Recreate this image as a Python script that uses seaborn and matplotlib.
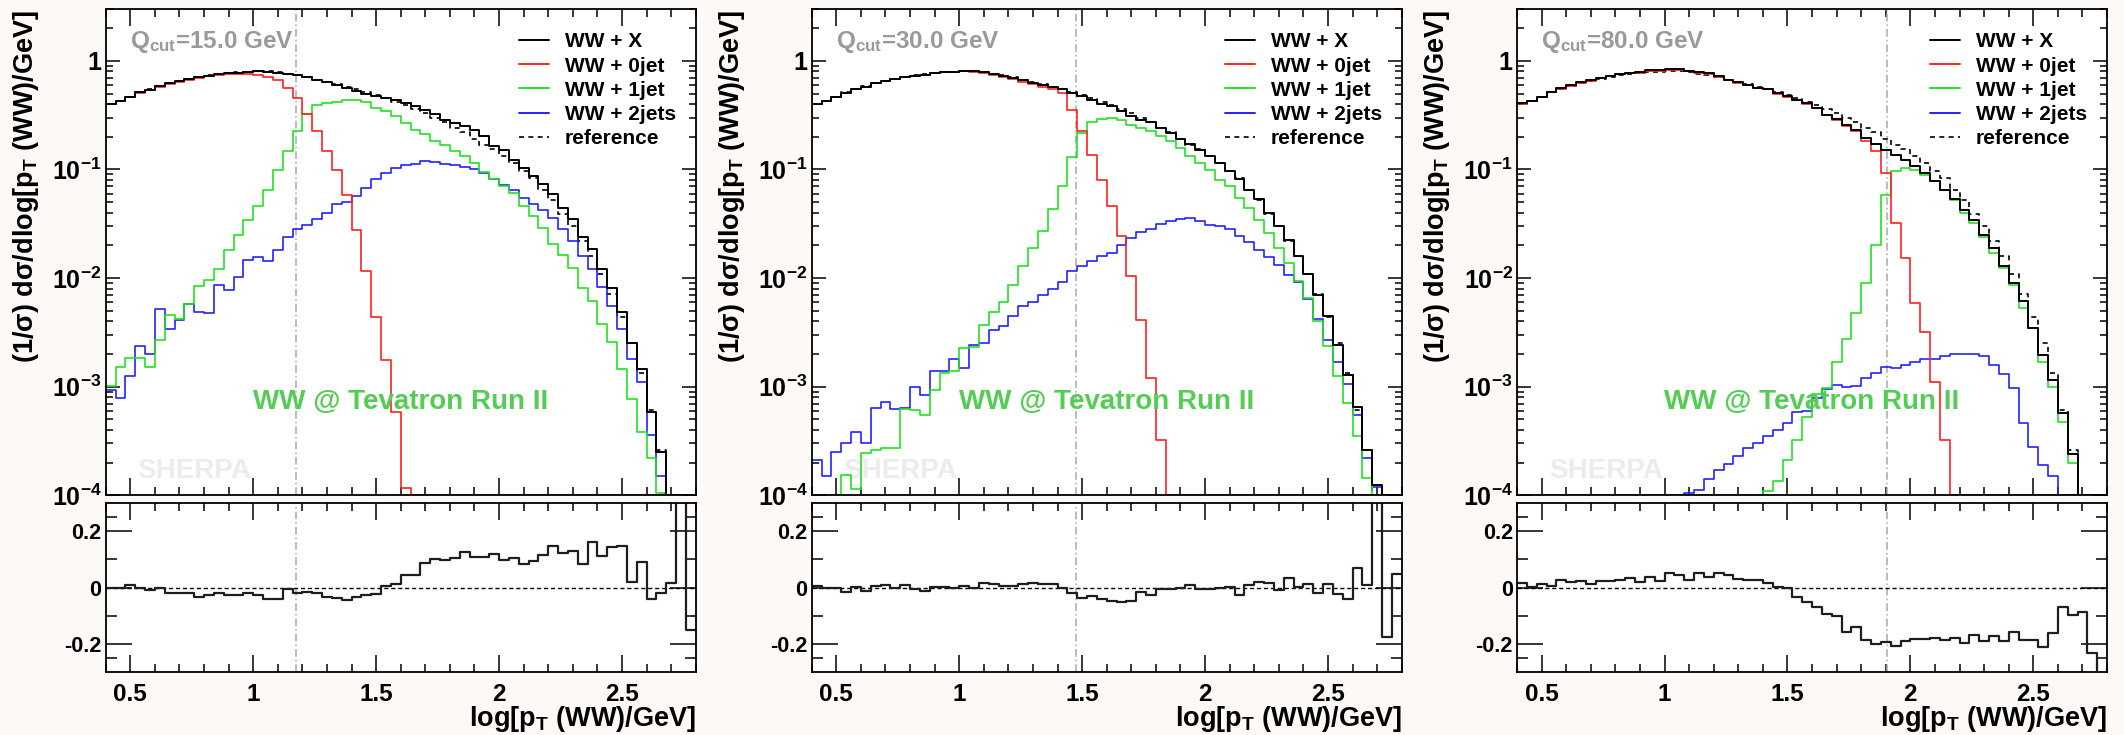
import numpy as np
import pandas as pd
import matplotlib
matplotlib.use("Agg")
import matplotlib.pyplot as plt
from matplotlib.ticker import (FixedLocator, FixedFormatter, NullFormatter,
                               LogLocator, MultipleLocator)
from matplotlib.lines import Line2D
import seaborn as sns

# ------------------------------------------------------------------ data
# histogram binning in log10[pT(WW)/GeV]
bin_edges = np.round(np.linspace(0.4, 2.8, 61), 2)
qcut_values = [15.0, 30.0, 80.0]
series_labels = ["WW + X", "WW + 0jet", "WW + 1jet", "WW + 2jets", "reference"]
main_ytick_vals = [1e-4, 1e-3, 1e-2, 1e-1, 1.0]
main_ytick_labels = [r"$10^{-4}$", r"$10^{-3}$", r"$10^{-2}$", r"$10^{-1}$", "1"]
xtick_vals = [0.5, 1.0, 1.5, 2.0, 2.5]
xtick_labels = ["0.5", "1", "1.5", "2", "2.5"]
ratio_ytick_vals = [-0.2, 0.0, 0.2]
ratio_ytick_labels = ["-0.2", "0", "0.2"]

reference = [0.40, 0.43, 0.46, 0.515, 0.545, 0.585, 0.62, 0.65, 0.68, 0.71,
             0.735, 0.755, 0.77, 0.785, 0.795, 0.80, 0.80, 0.785, 0.76, 0.735,
             0.705, 0.67, 0.64, 0.61, 0.575, 0.55, 0.515, 0.485, 0.455, 0.42,
             0.395, 0.36, 0.33, 0.295, 0.275, 0.242, 0.219, 0.192, 0.168, 0.153,
             0.133, 0.115, 0.096, 0.083, 0.065, 0.052, 0.039, 0.030, 0.0219, 0.0159,
             0.0109, 0.0071, 0.0044, 0.0025, 0.00134, 0.00061, 0.00026, 0.00008, 0.00006, 0.00003]

# ---- Qcut = 15 GeV
ww_x_q15 = [0.40, 0.43, 0.46, 0.52, 0.54, 0.59, 0.62, 0.65, 0.68, 0.71,
            0.73, 0.75, 0.77, 0.78, 0.79, 0.80, 0.79, 0.78, 0.76, 0.74,
            0.71, 0.67, 0.635, 0.60, 0.56, 0.53, 0.50, 0.475, 0.456, 0.434,
            0.405, 0.382, 0.349, 0.321, 0.288, 0.265, 0.25, 0.23, 0.202, 0.164,
            0.150, 0.123, 0.103, 0.087, 0.073, 0.059, 0.044, 0.035, 0.024, 0.0185,
            0.012, 0.0081, 0.0049, 0.00253, 0.00147, 0.00058, 0.00025, 0.0, 0.0, 0.0]
ww_0j_q15 = [0.40, 0.43, 0.46, 0.51, 0.54, 0.58, 0.61, 0.64, 0.67, 0.70,
             0.72, 0.74, 0.75, 0.76, 0.76, 0.748, 0.712, 0.673, 0.564, 0.45,
             0.327, 0.228, 0.147, 0.0998, 0.0587, 0.0279, 0.0116, 0.00435, 0.00175, 0.00059,
             0.000117, 0.0, 0.0, 0.0, 0.0, 0.0, 0.0, 0.0, 0.0, 0.0,
             0.0, 0.0, 0.0, 0.0, 0.0, 0.0, 0.0, 0.0, 0.0, 0.0,
             0.0, 0.0, 0.0, 0.0, 0.0, 0.0, 0.0, 0.0, 0.0, 0.0]
ww_1j_q15 = [0.00101, 0.00151, 0.00184, 0.00184, 0.00152, 0.00267, 0.0046, 0.0042, 0.0058, 0.0084,
             0.0095, 0.012, 0.018, 0.025, 0.034, 0.0458, 0.064, 0.098, 0.147, 0.228,
             0.325, 0.388, 0.405, 0.422, 0.434, 0.434, 0.419, 0.369, 0.344, 0.309,
             0.268, 0.233, 0.21, 0.182, 0.167, 0.147, 0.132, 0.115, 0.095, 0.081,
             0.070, 0.061, 0.046, 0.037, 0.029, 0.0208, 0.0164, 0.0124, 0.0081, 0.0062,
             0.0038, 0.00256, 0.00146, 0.00077, 0.00038, 0.00022, 0.000105, 0.0, 0.0, 0.0]
ww_2j_q15 = [0.00094, 0.00079, 0.00125, 0.00236, 0.00201, 0.0052, 0.0034, 0.0041, 0.0058, 0.0049,
             0.0048, 0.0087, 0.0078, 0.0102, 0.0148, 0.0157, 0.0143, 0.0183, 0.0239, 0.0284,
             0.0308, 0.0353, 0.0398, 0.0485, 0.0499, 0.0567, 0.0676, 0.0818, 0.093, 0.103,
             0.111, 0.113, 0.119, 0.117, 0.113, 0.109, 0.105, 0.100, 0.093, 0.081,
             0.0726, 0.064, 0.055, 0.048, 0.042, 0.036, 0.028, 0.022, 0.016, 0.012,
             0.0083, 0.0055, 0.0034, 0.0018, 0.0011, 0.00036, 0.00015, 0.0, 0.0, 0.0]
ratio_q15 = [0.0, 0.0, 0.01, 0.0, -0.01, 0.0, -0.02, -0.02, -0.02, -0.035,
             -0.025, -0.02, -0.027, -0.025, -0.02, -0.025, -0.04, -0.04, -0.007, -0.02,
             -0.017, -0.019, -0.033, -0.039, -0.046, -0.033, -0.027, -0.022, 0.005, 0.014,
             0.044, 0.044, 0.086, 0.10, 0.097, 0.103, 0.125, 0.107, 0.109, 0.12,
             0.097, 0.103, 0.082, 0.095, 0.117, 0.148, 0.123, 0.13, 0.083, 0.161,
             0.112, 0.144, 0.148, 0.019, 0.089, -0.041, -0.021, 0.017, 0.5, -0.151]

# ---- Qcut = 30 GeV
ww_x_q30 = [0.40, 0.43, 0.46, 0.51, 0.545, 0.58, 0.62, 0.655, 0.68, 0.715,
            0.73, 0.745, 0.77, 0.785, 0.795, 0.805, 0.80, 0.786, 0.753, 0.722,
            0.688, 0.664, 0.627, 0.60, 0.58, 0.55, 0.507, 0.473, 0.44, 0.402,
            0.382, 0.344, 0.313, 0.288, 0.272, 0.241, 0.217, 0.191, 0.17, 0.152,
            0.132, 0.115, 0.096, 0.081, 0.065, 0.053, 0.040, 0.030, 0.0226, 0.0159,
            0.011, 0.0070, 0.0045, 0.00244, 0.00129, 0.00065, 0.00026, 0.000124, 0.0, 0.0]
ww_0j_q30 = [0.40, 0.43, 0.46, 0.51, 0.545, 0.58, 0.62, 0.655, 0.68, 0.715,
             0.73, 0.745, 0.77, 0.785, 0.79, 0.80, 0.79, 0.78, 0.745, 0.71,
             0.675, 0.645, 0.61, 0.575, 0.55, 0.507, 0.356, 0.225, 0.137, 0.0807,
             0.0459, 0.0243, 0.0104, 0.00414, 0.0012, 0.000325, 0.0, 0.0, 0.0, 0.0,
             0.0, 0.0, 0.0, 0.0, 0.0, 0.0, 0.0, 0.0, 0.0, 0.0,
             0.0, 0.0, 0.0, 0.0, 0.0, 0.0, 0.0, 0.0, 0.0, 0.0]
ww_1j_q30 = [0.0, 0.0, 0.0, 0.000155, 0.000114, 0.000245, 0.000263, 0.00027, 0.00027, 0.00062,
             0.00061, 0.00055, 0.00094, 0.00135, 0.0014, 0.00227, 0.0023, 0.0037, 0.0049, 0.006,
             0.0087, 0.013, 0.019, 0.0274, 0.0434, 0.070, 0.13, 0.217, 0.272, 0.294,
             0.299, 0.284, 0.259, 0.241, 0.225, 0.202, 0.182, 0.158, 0.134, 0.115,
             0.0998, 0.0807, 0.070, 0.0547, 0.0443, 0.0346, 0.026, 0.019, 0.0138, 0.0093,
             0.0066, 0.004, 0.00235, 0.00125, 0.00071, 0.00035, 0.000145, 0.0, 0.0, 0.0]
ww_2j_q30 = [0.000213, 0.000149, 0.000248, 0.000303, 0.000383, 0.0003, 0.00063, 0.00072, 0.00062, 0.00064,
             0.001, 0.00084, 0.0014, 0.0014, 0.0018, 0.0015, 0.0024, 0.0025, 0.0033, 0.0036,
             0.0045, 0.0055, 0.0060, 0.0070, 0.0080, 0.0092, 0.0115, 0.0130, 0.0145, 0.0160,
             0.0170, 0.0200, 0.0235, 0.0265, 0.0285, 0.0315, 0.0335, 0.035, 0.0355, 0.0335,
             0.031, 0.030, 0.028, 0.0245, 0.0215, 0.018, 0.0156, 0.0133, 0.0106, 0.0092,
             0.0064, 0.0042, 0.0027, 0.0017, 0.00105, 0.00055, 0.00022, 0.00012, 0.0, 0.0]
ratio_q30 = [0.006, 0.0, 0.0, -0.017, 0.002, -0.012, 0.005, 0.008, 0.0, 0.009,
             -0.005, -0.012, 0.002, 0.002, 0.0, 0.005, 0.0, 0.017, 0.011, 0.007,
             0.005, 0.011, 0.015, 0.013, 0.011, 0.0, -0.021, -0.037, -0.03, -0.04,
             -0.049, -0.052, -0.049, -0.017, -0.025, -0.005, -0.007, 0.0, 0.009, -0.005,
             -0.005, 0.0, 0.002, -0.028, 0.008, 0.019, 0.015, -0.009, 0.034, 0.002,
             0.011, -0.019, 0.012, -0.024, -0.041, 0.071, 0.008, 0.5, -0.175, 0.047]

# ---- Qcut = 80 GeV
ww_x_q80 = [0.405, 0.43, 0.465, 0.52, 0.56, 0.595, 0.635, 0.66, 0.695, 0.725,
            0.755, 0.78, 0.785, 0.815, 0.815, 0.84, 0.835, 0.805, 0.787, 0.765,
            0.722, 0.673, 0.636, 0.605, 0.564, 0.552, 0.507, 0.473, 0.44, 0.41,
            0.369, 0.32, 0.292, 0.259, 0.233, 0.195, 0.17, 0.152, 0.137, 0.123,
            0.107, 0.093, 0.078, 0.065, 0.053, 0.0427, 0.0346, 0.0251, 0.019, 0.0128,
            0.009, 0.0061, 0.0035, 0.00197, 0.00116, 0.00057, 0.00024, 0.0, 0.0, 0.0]
ww_0j_q80 = [0.40, 0.425, 0.46, 0.515, 0.555, 0.59, 0.63, 0.655, 0.69, 0.72,
             0.75, 0.775, 0.78, 0.81, 0.81, 0.83, 0.825, 0.80, 0.78, 0.76,
             0.715, 0.665, 0.63, 0.60, 0.558, 0.545, 0.50, 0.465, 0.432, 0.40,
             0.365, 0.316, 0.287, 0.253, 0.225, 0.182, 0.147, 0.093, 0.0322, 0.0153,
             0.0059, 0.00317, 0.0011, 0.000325, 0.0, 0.0, 0.0, 0.0, 0.0, 0.0,
             0.0, 0.0, 0.0, 0.0, 0.0, 0.0, 0.0, 0.0, 0.0, 0.0]
ww_1j_q80 = [0.0, 0.0, 0.0, 0.0, 0.0, 0.0, 0.0, 0.0, 0.0, 0.0,
             0.0, 0.0, 0.0, 0.0, 0.0, 0.0, 0.0, 0.0, 0.0, 0.0,
             0.0, 0.0, 0.0, 0.0, 0.0, 0.00011, 0.000134, 0.000213, 0.000325, 0.000526,
             0.00085, 0.00098, 0.00168, 0.00275, 0.00477, 0.009, 0.0203, 0.0587, 0.0964, 0.103,
             0.0998, 0.0897, 0.078, 0.0644, 0.0528, 0.0398, 0.0318, 0.0239, 0.017, 0.0124,
             0.0087, 0.0053, 0.0035, 0.0017, 0.001, 0.00047, 0.0002, 0.0, 0.0, 0.0]
ww_2j_q80 = [0.0, 0.0, 0.0, 0.0, 0.0, 0.0, 0.0, 0.0, 0.0, 0.0,
             0.0, 0.0, 0.0, 0.0, 0.0, 0.0, 0.0, 0.000105, 0.000112, 0.00014,
             0.00017, 0.000195, 0.00023, 0.00027, 0.0003, 0.00035, 0.0004, 0.00046, 0.00058, 0.0006,
             0.00079, 0.00096, 0.00104, 0.001, 0.00102, 0.0012, 0.00135, 0.00153, 0.0015, 0.00158,
             0.0017, 0.0018, 0.0018, 0.0019, 0.002, 0.002, 0.002, 0.0019, 0.0016, 0.0013,
             0.00098, 0.00046, 0.00028, 0.00019, 0.00015, 0.0, 0.0, 0.0, 0.0, 0.0]
ratio_q80 = [0.017, 0.001, 0.013, 0.006, 0.026, 0.019, 0.024, 0.011, 0.022, 0.022,
             0.028, 0.032, 0.02, 0.036, 0.024, 0.05, 0.044, 0.028, 0.053, 0.038,
             0.053, 0.044, 0.031, 0.026, 0.026, 0.017, 0.002, 0.0, -0.033, -0.053,
             -0.069, -0.095, -0.10, -0.157, -0.142, -0.185, -0.2, -0.194, -0.208, -0.189,
             -0.183, -0.183, -0.179, -0.188, -0.181, -0.196, -0.167, -0.19, -0.173, -0.19,
             -0.157, -0.187, -0.187, -0.211, -0.161, -0.071, -0.098, -0.088, -0.232, -0.5]

panels = [
    dict(q=qcut_values[0], total=ww_x_q15, j0=ww_0j_q15, j1=ww_1j_q15, j2=ww_2j_q15, ratio=ratio_q15),
    dict(q=qcut_values[1], total=ww_x_q30, j0=ww_0j_q30, j1=ww_1j_q30, j2=ww_2j_q30, ratio=ratio_q30),
    dict(q=qcut_values[2], total=ww_x_q80, j0=ww_0j_q80, j1=ww_1j_q80, j2=ww_2j_q80, ratio=ratio_q80),
]
for p in panels:
    for k in ("total", "j0", "j1", "j2", "ratio"):
        if len(p[k]) != 60:
            raise ValueError(f"{p['q']} {k} has {len(p[k])} bins")

# ------------------------------------------------------------------ style
sns.set_theme(style="ticks")
plt.rcParams.update({
    "font.family": ["Liberation Sans", "DejaVu Sans"],
    "font.weight": "bold",
    "mathtext.fontset": "custom",
    "mathtext.rm": "Liberation Sans:bold",
    "mathtext.it": "Liberation Sans:bold",
    "mathtext.bf": "Liberation Sans:bold",
    "mathtext.sf": "Liberation Sans:bold",
    "mathtext.default": "rm",
    "axes.edgecolor": "black",
    "axes.linewidth": 1.3,
    "xtick.color": "black",
    "ytick.color": "black",
    "text.color": "black",
    "axes.labelcolor": "black",
})

COL_X = "#000000"
COL_0 = "#ff2020"
COL_1 = "#22e022"
COL_2 = "#2222ff"
COL_REF = "#000000"
REF_LS = (0, (3, 2.6))
BOTTOM = 1e-4


def draw_step(ax, vals, color, lw=1.2, ls="-", floor=None, zorder=2):
    v = np.asarray(vals, dtype=float)
    if floor is not None:
        v = np.clip(v, floor, None)
    df = pd.DataFrame({"x": bin_edges, "y": np.append(v, v[-1])})
    sns.lineplot(data=df, x="x", y="y", ax=ax, color=color, linewidth=lw,
                 linestyle=ls, drawstyle="steps-post", estimator=None,
                 sort=False, errorbar=None, legend=False, zorder=zorder)
    return ax.lines[-1]


W, H = 2124.0, 735.0
fig = plt.figure(figsize=(W / 100, H / 100), dpi=100, facecolor="#fcf9f6")
lefts_px = [105.7, 811.7, 1517.0]
width_px = 590.0
main_top, main_bot = 9.0, 495.3
rat_top, rat_bot = 503.0, 672.0

ylab = "(1/σ) dσ/dlog[$p_{T}$ (WW)/GeV]"
xlab = "log[$p_{T}$ (WW)/GeV]"

for k, p in enumerate(panels):
    x0 = lefts_px[k] / W
    ax = fig.add_axes([x0, 1 - main_bot / H, width_px / W, (main_bot - main_top) / H])
    axr = fig.add_axes([x0, 1 - rat_bot / H, width_px / W, (rat_bot - rat_top) / H])
    ax.set_facecolor("white")
    axr.set_facecolor("white")

    # ---- main panel
    draw_step(ax, reference, COL_REF, lw=1.2, ls=REF_LS, floor=BOTTOM, zorder=2.0)
    draw_step(ax, p["j2"], COL_2, lw=1.2, floor=BOTTOM, zorder=2.1)
    draw_step(ax, p["j1"], COL_1, lw=1.2, floor=BOTTOM, zorder=2.2)
    draw_step(ax, p["j0"], COL_0, lw=1.2, floor=BOTTOM, zorder=2.3)
    draw_step(ax, p["total"], COL_X, lw=1.4, floor=BOTTOM, zorder=2.4)

    ax.set_yscale("log")
    ax.set_xlim(0.4, 2.8)
    ax.set_ylim(BOTTOM, 3.0)
    ax.axvline(np.log10(p["q"]), color="#a8a8a8", lw=1.1, ls=(0, (5, 2, 1, 2)), zorder=1.5)

    ax.xaxis.set_major_locator(FixedLocator(xtick_vals))
    ax.xaxis.set_minor_locator(MultipleLocator(0.1))
    ax.yaxis.set_major_locator(FixedLocator(main_ytick_vals))
    ax.yaxis.set_major_formatter(FixedFormatter(main_ytick_labels))
    ax.yaxis.set_minor_locator(LogLocator(base=10, subs=np.arange(2, 10), numticks=30))
    ax.yaxis.set_minor_formatter(NullFormatter())
    ax.tick_params(axis="x", which="major", direction="in", length=12, width=1.1,
                   top=True, bottom=True, labelbottom=False)
    ax.tick_params(axis="x", which="minor", direction="in", length=6, width=1.1,
                   top=True, bottom=True)
    ax.tick_params(axis="y", which="major", direction="in", length=10, width=1.1,
                   left=True, right=True, labelsize=18, pad=3)
    ax.tick_params(axis="y", which="minor", direction="in", length=5, width=1.1,
                   left=True, right=True)
    ax.set_xlabel("")
    ax.set_ylabel(ylab, fontsize=19.5, fontweight="bold", loc="top")
    ax.yaxis.set_label_coords(-0.135, 0.998)
    ax.yaxis.label.set_va("center")

    ax.text(0.041, 0.92, f"$Q_{{cut}}$={p['q']:.1f} GeV", transform=ax.transAxes,
            color="#9a9a9a", fontsize=17.5, fontweight="bold", ha="left", va="baseline")
    ax.text(0.5, 0.177, "WW @ Tevatron Run II", transform=ax.transAxes,
            color="#55cc55", fontsize=20, fontweight="bold", ha="center", va="baseline",
            zorder=3)
    ax.text(0.054, 0.036, "SHERPA", transform=ax.transAxes, color="#ececec",
            fontsize=20, fontweight="bold", ha="left", va="baseline", zorder=0.5)

    handles = [Line2D([], [], color=COL_X, lw=1.4),
               Line2D([], [], color=COL_0, lw=1.4),
               Line2D([], [], color=COL_1, lw=1.4),
               Line2D([], [], color=COL_2, lw=1.4),
               Line2D([], [], color=COL_REF, lw=1.2, ls=REF_LS)]
    ax.legend(handles, series_labels, loc="upper left", bbox_to_anchor=(0.70, 0.952),
              frameon=False, prop={"weight": "bold", "size": 15}, handlelength=1.45,
              handletextpad=0.75, labelspacing=0.25, borderaxespad=0, borderpad=0)

    # ---- ratio panel
    draw_step(axr, p["ratio"], "#1e1e1e", lw=1.6, zorder=2.2)
    axr.axhline(0.0, color="black", lw=1.0, ls=(0, (3, 2)), zorder=2.1)
    axr.axvline(np.log10(p["q"]), color="#a8a8a8", lw=1.1, ls=(0, (5, 2, 1, 2)), zorder=1.5)
    axr.set_xlim(0.4, 2.8)
    axr.set_ylim(-0.3, 0.3)
    axr.xaxis.set_major_locator(FixedLocator(xtick_vals))
    axr.xaxis.set_major_formatter(FixedFormatter(xtick_labels))
    axr.xaxis.set_minor_locator(MultipleLocator(0.1))
    axr.yaxis.set_major_locator(FixedLocator(ratio_ytick_vals))
    axr.yaxis.set_major_formatter(FixedFormatter(ratio_ytick_labels))
    axr.yaxis.set_minor_locator(FixedLocator([-0.25, -0.1, 0.1, 0.25]))
    axr.tick_params(axis="x", which="major", direction="in", length=12, width=1.1,
                    top=True, bottom=True, labelsize=17.5, pad=8)
    axr.tick_params(axis="x", which="minor", direction="in", length=6, width=1.1,
                    top=True, bottom=True)
    axr.tick_params(axis="y", which="major", direction="in", length=19, width=1.1,
                    left=True, right=True, labelsize=15.5, pad=3)
    axr.tick_params(axis="y", which="minor", direction="in", length=8, width=1.1,
                    left=True, right=True)
    axr.set_ylabel("")
    axr.set_xlabel(xlab, fontsize=19.5, fontweight="bold", loc="right")
    axr.xaxis.set_label_coords(1.0, (rat_bot - 726.0) / (rat_bot - rat_top))
    axr.xaxis.label.set_va("baseline")

    for a in (ax, axr):
        for s in a.spines.values():
            s.set_linewidth(1.3)
            s.set_color("black")
            s.set_zorder(3)

fig.savefig("out.png", dpi=100, facecolor=fig.get_facecolor())
